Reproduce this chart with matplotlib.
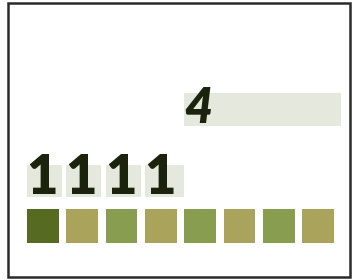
import matplotlib.pyplot as plt
from matplotlib.patches import Rectangle

# unit chart: 4 = 1 + 1 + 1 + 1, eight unit squares below
total_value = 4
total_label = "4"
unit_values = [1, 1, 1, 1]
unit_labels = ["1", "1", "1", "1"]
square_count = 8
square_colors = ["#566a22", "#a9a35b", "#899d50", "#a9a35b",
                 "#899d50", "#a9a35b", "#899d50", "#a9a35b"]

px = 39.3  # pixels per unit
x0 = 27    # left edge of first square in pixels

fig = plt.figure(figsize=(3.53, 2.80), dpi=100)
ax = fig.add_axes([0, 0, 1, 1])
ax.set_xlim(-x0 / px, (353 - x0) / px)
ax.set_ylim(280, 0)
ax.axis("off")

light = "#e5e8dc"
ink = "#1b230c"

# top bar
ax.barh(109.5, total_value, left=len(unit_values), height=33, color=light)
ax.text(len(unit_values) + 0.0, 108.5, total_label, fontsize=35, fontweight="heavy",
        style="italic", family="Lato", color=ink, ha="left", va="center")

# unit boxes
lefts = [sum(unit_values[:i]) for i in range(len(unit_values))]
widths = [v - 0.11 for v in unit_values]
widths[-1] = unit_values[-1]
ax.barh([181] * len(unit_values), widths, left=lefts, height=32, color=light)
for l, lab in zip(lefts, unit_labels):
    ax.text(l - 0.02, 178.5, lab, fontsize=39, fontweight="heavy",
            family="Lato", color=ink, ha="left", va="center")

# squares
ax.bar(range(square_count), [34] * square_count, bottom=209, width=0.81,
       align="edge", color=square_colors)

# frame
fig.patches.append(Rectangle((8 / 353, 3 / 280), 342 / 353, 274 / 280,
                             transform=fig.transFigure, fill=False,
                             edgecolor="#2a2a2a", linewidth=1.8))

fig.savefig("out.png", dpi=100)
